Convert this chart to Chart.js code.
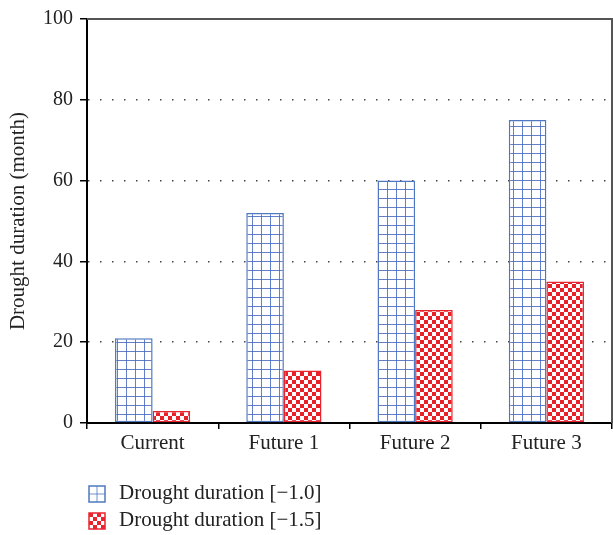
<!DOCTYPE html>
<html>
<head>
<meta charset="utf-8">
<script src="https://cdn.jsdelivr.net/npm/chart.js@4.4.0/dist/chart.umd.min.js"></script>
<style>
html,body{margin:0;padding:0;background:#fff;}
#wrap{width:613px;height:535px;position:relative;}
</style>
</head>
<body>
<div id="wrap"><canvas id="c" width="613" height="535"></canvas></div>
<script>
const categories = ["Current", "Future 1", "Future 2", "Future 3"];
const seriesA = [21, 52, 60, 75];
const seriesB = [3, 13, 28, 35];
const seriesNames = ["Drought duration [\u22121.0]", "Drought duration [\u22121.5]"];
const yTicks = [0, 20, 40, 60, 80, 100];

const FONT = "'Liberation Serif', 'DejaVu Serif', serif";

function gridPattern(){
  const c = document.createElement('canvas');
  c.width = 9; c.height = 9;
  const g = c.getContext('2d');
  g.fillStyle = '#ffffff'; g.fillRect(0,0,9,9);
  g.fillStyle = 'rgba(70,105,190,0.85)';
  g.fillRect(0,0,9,1);
  g.fillRect(0,0,1,9);
  return g.createPattern(c,'repeat');
}
function checkPattern(){
  const c = document.createElement('canvas');
  c.width = 8; c.height = 8;
  const g = c.getContext('2d');
  g.fillStyle = '#ffffff'; g.fillRect(0,0,8,8);
  g.fillStyle = '#e8202a';
  g.fillRect(0,0,4,4);
  g.fillRect(4,4,4,4);
  return g.createPattern(c,'repeat');
}
const patA = gridPattern();
const patB = checkPattern();
const colA = '#4f78c0';
const colB = '#e8252f';

const framePlugin = {
  id: 'frame',
  afterDraw(chart){
    const {ctx, chartArea:a} = chart;
    ctx.save();
    ctx.strokeStyle = '#555';
    ctx.lineWidth = 2;
    ctx.beginPath();
    ctx.moveTo(a.left, a.top);
    ctx.lineTo(a.right, a.top);
    ctx.lineTo(a.right, a.bottom);
    ctx.stroke();
    // legend
    const items = chart.data.datasets;
    ctx.font = "21px " + FONT;
    ctx.textBaseline = 'alphabetic';
    ctx.textAlign = 'left';
    const ys = [486, 513];
    items.forEach((ds, i) => {
      const x = 89, y = ys[i], s = 16;
      ctx.fillStyle = '#fff';
      ctx.fillRect(x, y, s, s);
      if (i === 0) {
        ctx.strokeStyle = 'rgba(79,120,192,0.8)';
        ctx.lineWidth = 1;
        ctx.beginPath();
        ctx.moveTo(x + s/2, y); ctx.lineTo(x + s/2, y + s);
        ctx.moveTo(x, y + s/2); ctx.lineTo(x + s, y + s/2);
        ctx.stroke();
      } else {
        const q = s/4;
        ctx.fillStyle = colB;
        for (let r=0;r<4;r++) for (let cc=0;cc<4;cc++) {
          if ((r+cc)%2===0) ctx.fillRect(x+cc*q, y+r*q, q, q);
        }
      }
      ctx.strokeStyle = ds.borderColor;
      ctx.lineWidth = 1.5;
      ctx.strokeRect(x, y, s, s);
      ctx.fillStyle = '#222';
      ctx.fillText(ds.label, 119, y + 13);
    });
    ctx.restore();
  }
};

new Chart(document.getElementById('c'), {
  type: 'bar',
  data: {
    labels: categories,
    datasets: [
      { label: seriesNames[0], data: seriesA, backgroundColor: patA, borderColor: colA, borderWidth: 1.5, borderSkipped: false, barPercentage: 1.0, categoryPercentage: 0.573 },
      { label: seriesNames[1], data: seriesB, backgroundColor: patB, borderColor: colB, borderWidth: 1.5, borderSkipped: false, barPercentage: 1.0, categoryPercentage: 0.573 }
    ]
  },
  options: {
    responsive: false,
    animation: false,
    devicePixelRatio: 1,
    layout: { padding: { top: 12, right: 1, left: 0, bottom: 0 } },
    plugins: { legend: { display: false }, tooltip: { enabled: false } },
    scales: {
      x: {
        offset: true,
        grid: { display: true, drawOnChartArea: false, drawTicks: true, tickLength: 6, color: '#000', lineWidth: 1.5 },
        border: { display: true, color: '#000', width: 2 },
        ticks: { color: '#222', font: { family: FONT, size: 21 }, padding: 2 },
        afterFit(scale){ scale.height = 112; }
      },
      y: {
        min: 0, max: 100,
        afterBuildTicks(scale){ scale.ticks = yTicks.map(v => ({value: v})); },
        grid: {
          display: true, drawOnChartArea: true, drawTicks: true, tickLength: 7,
          color: (ctx) => (ctx.tick && (ctx.tick.value === 0 || ctx.tick.value === 100)) ? 'rgba(0,0,0,0)' : '#444',
          tickColor: '#000',
          lineWidth: 1.5
        },
        border: { display: true, color: '#000', width: 2, dash: [1.5, 10.5] },
        ticks: { color: '#222', font: { family: FONT, size: 20 }, padding: 7 },
        title: { display: true, text: 'Drought duration (month)', color: '#222', font: { family: FONT, size: 21 }, padding: { top: 6, bottom: 0 } },
        afterFit(scale){ scale.width = 87; }
      }
    }
  },
  plugins: [framePlugin]
});
</script>
</body>
</html>
